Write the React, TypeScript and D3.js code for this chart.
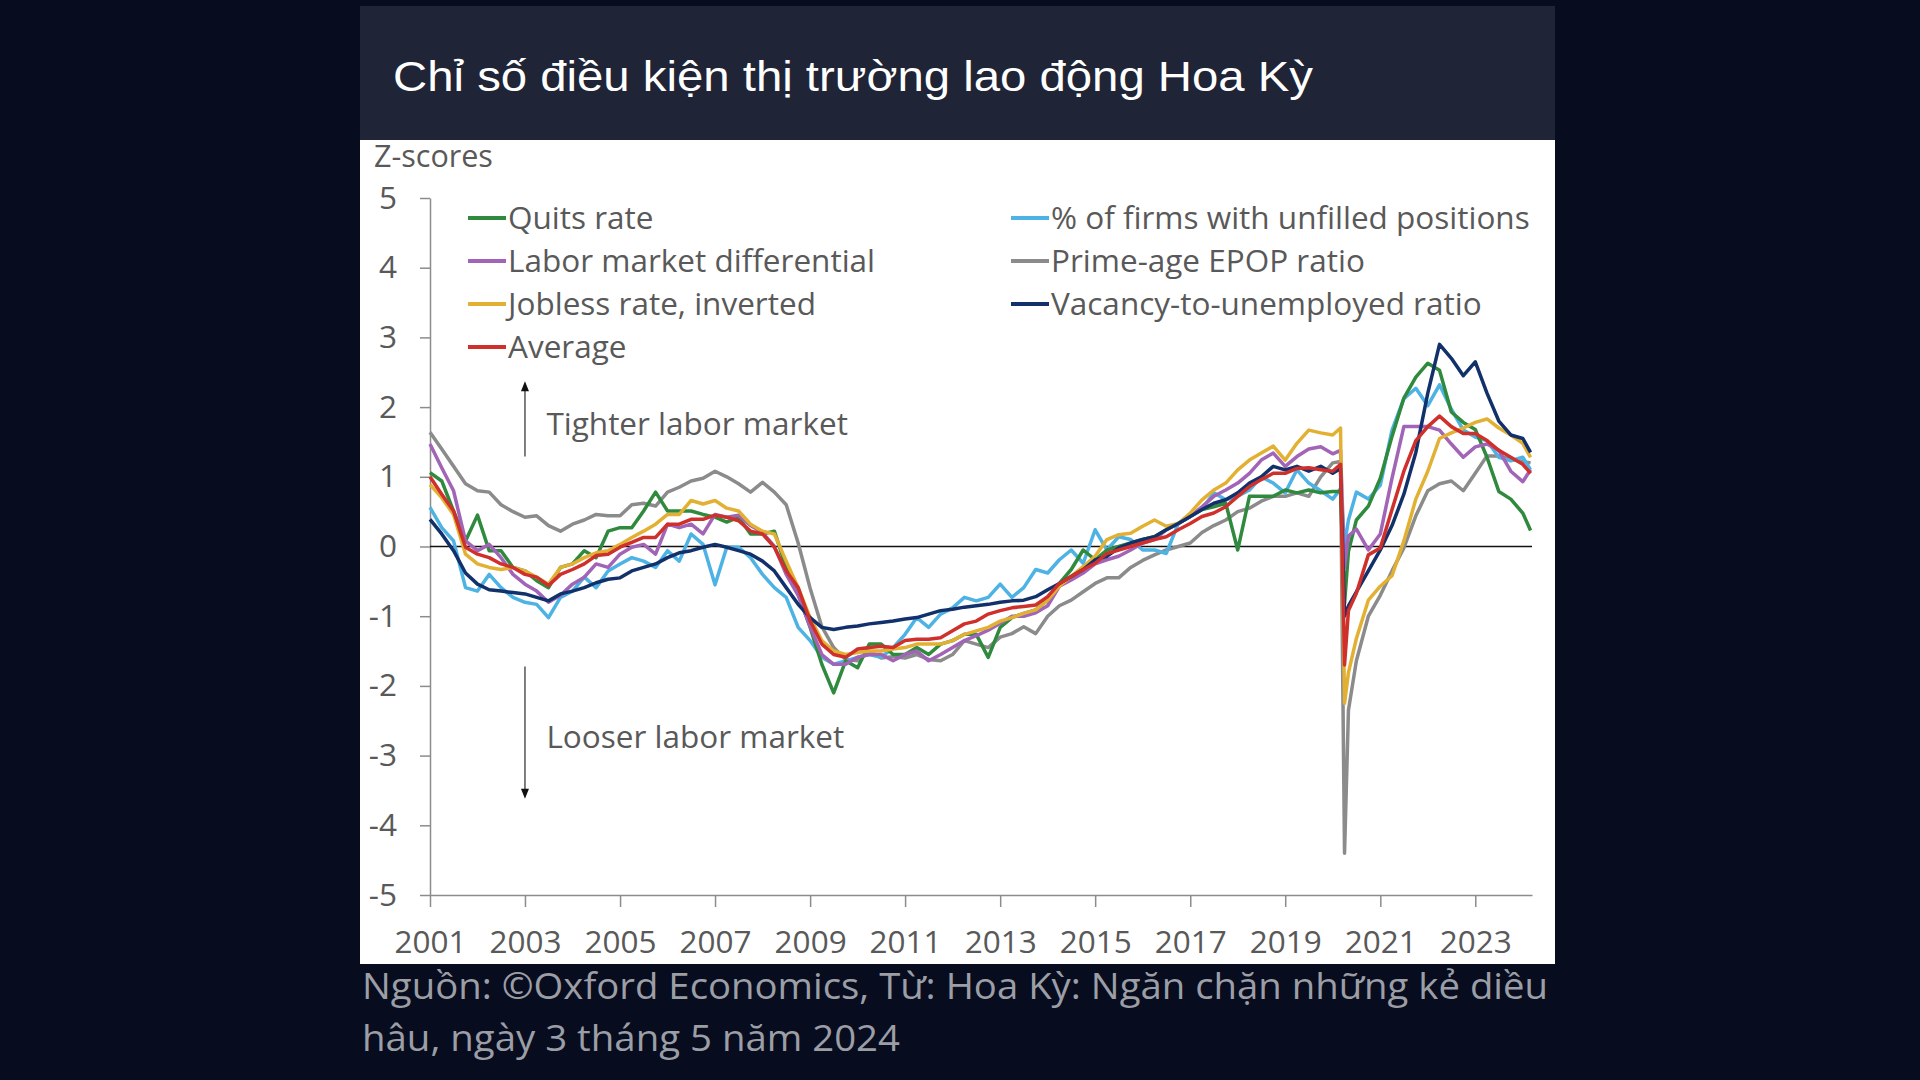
import React, { useEffect, useRef } from 'react';
import * as d3 from 'd3';

// sample dates: quarterly, monthly around the 2020 drop
const quarterMonths = [1, 4, 7, 10];
const covidMonths = [1, 3, 4, 5, 7, 10];
const lastMonths = [1, 3];
const dates: Date[] = [
  ...d3.range(2001, 2020).flatMap(y => quarterMonths.map(m => new Date(y, m - 1, 1))),
  ...covidMonths.map(m => new Date(2020, m - 1, 1)),
  ...d3.range(2021, 2024).flatMap(y => quarterMonths.map(m => new Date(y, m - 1, 1))),
  ...lastMonths.map(m => new Date(2024, m - 1, 1)),
];

const quits = [
  1.06, 0.94, 0.51, 0.08,
  0.45, -0.06, -0.06, -0.30,
  -0.35, -0.49, -0.59, -0.30,
  -0.25, -0.06, -0.16, 0.22,
  0.27, 0.27, 0.51, 0.78,
  0.51, 0.51, 0.51, 0.46,
  0.42, 0.35, 0.42, 0.18,
  0.18, 0.22, -0.30, -0.68,
  -1.16, -1.69, -2.10, -1.64,
  -1.74, -1.40, -1.40, -1.55,
  -1.55, -1.45, -1.55, -1.40,
  -1.35, -1.26, -1.26, -1.59,
  -1.16, -1.02, -0.96, -0.91,
  -0.77, -0.53, -0.33, -0.05,
  -0.19, -0.05, 0.00, 0.05,
  0.10, 0.14, 0.24, 0.33,
  0.43, 0.53, 0.57, 0.62,
  -0.05, 0.72, 0.72, 0.72,
  0.81, 0.77, 0.81, 0.77,
  0.79, 0.79, -0.82, -0.07, 0.38, 0.58,
  0.98, 1.58, 2.13, 2.43,
  2.63, 2.53, 1.93, 1.78,
  1.68, 1.28, 0.79, 0.68,
  0.48, 0.23,
];

const laborDiff = [
  1.47, 1.13, 0.80, 0.08,
  -0.06, 0.03, -0.16, -0.40,
  -0.54, -0.64, -0.80, -0.70,
  -0.54, -0.44, -0.25, -0.30,
  -0.11, -0.01, 0.03, -0.11,
  0.32, 0.27, 0.32, 0.18,
  0.46, 0.42, 0.45, 0.30,
  0.20, 0.00, -0.40, -0.70,
  -1.15, -1.55, -1.69, -1.69,
  -1.59, -1.55, -1.55, -1.64,
  -1.55, -1.50, -1.64, -1.55,
  -1.45, -1.35, -1.28, -1.20,
  -1.10, -1.00, -1.00, -0.95,
  -0.85, -0.57, -0.48, -0.38,
  -0.25, -0.19, -0.14, -0.05,
  0.05, 0.10, 0.24, 0.33,
  0.43, 0.57, 0.72, 0.81,
  0.91, 1.05, 1.24, 1.34,
  1.15, 1.29, 1.40, 1.43,
  1.33, 1.38, -0.30, 0.15, 0.25, -0.05,
  0.18, 0.98, 1.72, 1.72,
  1.72, 1.67, 1.47, 1.28,
  1.43, 1.47, 1.38, 1.08,
  0.93, 1.10,
];

const jobless = [
  0.89, 0.70, 0.46, -0.11,
  -0.25, -0.30, -0.33, -0.30,
  -0.35, -0.44, -0.54, -0.30,
  -0.25, -0.16, -0.09, -0.06,
  0.03, 0.13, 0.22, 0.32,
  0.46, 0.46, 0.66, 0.61,
  0.66, 0.55, 0.51, 0.32,
  0.22, 0.18, -0.21, -0.59,
  -1.02, -1.35, -1.50, -1.55,
  -1.52, -1.50, -1.50, -1.47,
  -1.45, -1.40, -1.40, -1.40,
  -1.35, -1.26, -1.21, -1.16,
  -1.07, -1.02, -0.96, -0.91,
  -0.77, -0.57, -0.43, -0.29,
  -0.14, 0.10, 0.17, 0.19,
  0.29, 0.38, 0.29, 0.33,
  0.48, 0.67, 0.81, 0.91,
  1.10, 1.24, 1.34, 1.44,
  1.24, 1.48, 1.67, 1.63,
  1.60, 1.70, -2.25, -1.81, -1.32, -0.77,
  -0.57, -0.42, 0.08, 0.68,
  1.08, 1.55, 1.63, 1.70,
  1.78, 1.83, 1.70, 1.60,
  1.48, 1.28,
];

const average = [
  1.00, 0.75, 0.51, -0.01,
  -0.11, -0.16, -0.25, -0.30,
  -0.40, -0.44, -0.56, -0.40,
  -0.33, -0.25, -0.13, -0.11,
  -0.01, 0.06, 0.13, 0.13,
  0.32, 0.32, 0.39, 0.39,
  0.45, 0.42, 0.37, 0.22,
  0.18, -0.01, -0.35, -0.59,
  -1.07, -1.40, -1.55, -1.59,
  -1.47, -1.45, -1.43, -1.45,
  -1.35, -1.33, -1.33, -1.31,
  -1.21, -1.11, -1.07, -0.97,
  -0.92, -0.88, -0.86, -0.84,
  -0.72, -0.53, -0.43, -0.33,
  -0.24, -0.10, -0.05, 0.00,
  0.05, 0.10, 0.14, 0.24,
  0.33, 0.43, 0.48, 0.57,
  0.72, 0.86, 0.96, 1.05,
  1.05, 1.12, 1.13, 1.10,
  1.08, 1.18, -1.70, -0.92, -0.67, -0.12,
  -0.02, 0.53, 1.08, 1.52,
  1.72, 1.87, 1.72, 1.62,
  1.62, 1.52, 1.38, 1.28,
  1.18, 1.05,
];

const unfilled = [
  0.56, 0.27, 0.08, -0.59,
  -0.64, -0.40, -0.59, -0.73,
  -0.80, -0.83, -1.02, -0.73,
  -0.64, -0.44, -0.59, -0.35,
  -0.25, -0.16, -0.21, -0.30,
  -0.06, -0.21, 0.18, 0.03,
  -0.55, -0.01, -0.01, -0.16,
  -0.40, -0.59, -0.73, -1.16,
  -1.35, -1.59, -1.69, -1.64,
  -1.59, -1.55, -1.59, -1.45,
  -1.26, -1.02, -1.16, -0.97,
  -0.88, -0.73, -0.78, -0.73,
  -0.54, -0.73, -0.59, -0.33,
  -0.38, -0.19, -0.05, -0.24,
  0.24, -0.05, 0.14, 0.10,
  -0.05, -0.05, -0.10, 0.33,
  0.43, 0.53, 0.77, 0.67,
  0.72, 0.81, 1.00, 0.91,
  0.77, 1.10, 0.91, 0.80,
  0.68, 0.83, 0.03, 0.38, 0.78, 0.68,
  0.88, 1.67, 2.12, 2.27,
  2.02, 2.32, 1.97, 1.67,
  1.57, 1.52, 1.28, 1.23,
  1.28, 1.10,
];

const epop = [
  1.64, 1.40, 1.15, 0.90,
  0.80, 0.78, 0.60, 0.50,
  0.42, 0.44, 0.30, 0.22,
  0.32, 0.38, 0.46, 0.44,
  0.44, 0.60, 0.62, 0.58,
  0.78, 0.85, 0.94, 0.98,
  1.08, 1.00, 0.90, 0.78,
  0.92, 0.78, 0.60, 0.05,
  -0.60, -1.15, -1.45, -1.62,
  -1.64, -1.50, -1.60, -1.58,
  -1.60, -1.55, -1.62, -1.64,
  -1.55, -1.35, -1.40, -1.45,
  -1.30, -1.25, -1.15, -1.25,
  -1.00, -0.85, -0.77, -0.65,
  -0.53, -0.45, -0.45, -0.30,
  -0.20, -0.12, -0.05, 0.00,
  0.05, 0.20, 0.30, 0.38,
  0.50, 0.55, 0.65, 0.72,
  0.72, 0.77, 0.72, 1.00,
  1.20, 1.22, -4.40, -2.35, -1.64, -1.00,
  -0.70, -0.35, -0.02, 0.44,
  0.80, 0.90, 0.94, 0.80,
  1.05, 1.30, 1.30, 1.25,
  1.22, 1.20,
];

const vacancy = [
  0.39, 0.18, -0.06, -0.38,
  -0.54, -0.62, -0.64, -0.66,
  -0.68, -0.73, -0.78, -0.68,
  -0.64, -0.59, -0.52, -0.47,
  -0.45, -0.35, -0.30, -0.25,
  -0.16, -0.09, -0.06, -0.01,
  0.03, -0.01, -0.06, -0.11,
  -0.21, -0.35, -0.59, -0.83,
  -1.02, -1.16, -1.19, -1.16,
  -1.14, -1.11, -1.09, -1.07,
  -1.04, -1.02, -0.97, -0.92,
  -0.90, -0.87, -0.85, -0.83,
  -0.80, -0.78, -0.77, -0.72,
  -0.62, -0.53, -0.43, -0.33,
  -0.19, -0.14, -0.02, 0.05,
  0.10, 0.14, 0.24, 0.33,
  0.43, 0.53, 0.62, 0.67,
  0.77, 0.91, 1.00, 1.15,
  1.10, 1.15, 1.08, 1.15,
  1.05, 1.12, -1.00, -0.85, -0.65, -0.35,
  -0.05, 0.30, 0.75, 1.35,
  2.20, 2.90, 2.70, 2.45,
  2.65, 2.20, 1.80, 1.60,
  1.55, 1.35,
];

const yTicks = [5, 4, 3, 2, 1, 0, -1, -2, -3, -4, -5];
const xTickYears = [2001, 2003, 2005, 2007, 2009, 2011, 2013, 2015, 2017, 2019, 2021, 2023];

const leftLegend = ['Quits rate', 'Labor market differential', 'Jobless rate, inverted', 'Average'];
const rightLegend = ['% of firms with unfilled positions', 'Prime-age EPOP ratio', 'Vacancy-to-unemployed ratio'];

const seriesValues: Record<string, number[]> = {
  'Quits rate': quits,
  'Labor market differential': laborDiff,
  'Jobless rate, inverted': jobless,
  'Average': average,
  '% of firms with unfilled positions': unfilled,
  'Prime-age EPOP ratio': epop,
  'Vacancy-to-unemployed ratio': vacancy,
};

const colors: Record<string, string> = {
  'Quits rate': '#2f8a3e',
  'Labor market differential': '#a164b6',
  'Jobless rate, inverted': '#e2b134',
  'Average': '#d0302c',
  '% of firms with unfilled positions': '#4db2e4',
  'Prime-age EPOP ratio': '#8b8b8b',
  'Vacancy-to-unemployed ratio': '#12306a',
};

// paint order, back to front
const drawOrder = [
  'Prime-age EPOP ratio',
  '% of firms with unfilled positions',
  'Quits rate',
  'Labor market differential',
  'Jobless rate, inverted',
  'Vacancy-to-unemployed ratio',
  'Average',
];

const title = 'Chỉ số điều kiện thị trường lao động Hoa Kỳ';
const sourceLines = [
  'Nguồn: ©Oxford Economics, Từ: Hoa Kỳ: Ngăn chặn những kẻ diều',
  'hâu, ngày 3 tháng 5 năm 2024',
];

const chartFont = "'Open Sans', 'Noto Sans', sans-serif";
const textGray = '#595959';
const axisGray = '#8c8c8c';
const labelSize = 31.5;

function App() {
  const svgRef = useRef<SVGSVGElement>(null);

  useEffect(() => {
    const svg = d3.select(svgRef.current);
    svg.selectAll('*').remove();

    // page + panels
    svg.append('rect').attr('width', 1920).attr('height', 1080).attr('fill', '#070c1f');
    svg.append('rect').attr('x', 360).attr('y', 6).attr('width', 1195).attr('height', 134).attr('fill', '#1f2436');
    svg.append('rect').attr('x', 360).attr('y', 140).attr('width', 1195).attr('height', 824).attr('fill', '#ffffff');

    svg.append('text')
      .attr('x', 393).attr('y', 91)
      .attr('font-family', "'Liberation Sans', Arial, sans-serif")
      .attr('font-size', 43)
      .attr('fill', '#ffffff')
      .attr('textLength', 920)
      .attr('lengthAdjust', 'spacingAndGlyphs')
      .text(title);

    const x = d3.scaleTime()
      .domain([new Date(2001, 0, 1), new Date(2024, 2, 12)])
      .range([430, 1532]);
    const y = d3.scaleLinear().domain([-5, 5]).range([895, 198]);

    // y axis
    const yAxis = svg.append('g')
      .attr('transform', `translate(${x.range()[0]},0)`)
      .call(d3.axisLeft(y).tickValues(yTicks).tickSize(10).tickSizeOuter(0).tickPadding(23).tickFormat(d3.format('d')));
    yAxis.select('.domain').attr('stroke', axisGray).attr('stroke-width', 1.5);
    yAxis.selectAll('.tick line').attr('stroke', axisGray).attr('stroke-width', 1.5);
    yAxis.selectAll('.tick text')
      .attr('font-family', chartFont).attr('font-size', labelSize).attr('fill', textGray)
      .text((d: any) => String(d).replace('−', '-'));

    // x axis
    const xAxis = svg.append('g')
      .attr('transform', `translate(0,${y(-5)})`)
      .call(d3.axisBottom(x)
        .tickValues(xTickYears.map(yr => new Date(yr, 0, 1)))
        .tickFormat(d3.timeFormat('%Y') as any)
        .tickSize(12).tickSizeOuter(0).tickPadding(24));
    xAxis.select('.domain').attr('stroke', axisGray).attr('stroke-width', 1.5);
    xAxis.selectAll('.tick line').attr('stroke', axisGray).attr('stroke-width', 1.5);
    xAxis.selectAll('.tick text')
      .attr('font-family', chartFont).attr('font-size', labelSize).attr('fill', textGray);

    // zero line
    svg.append('line')
      .attr('x1', x.range()[0]).attr('x2', x.range()[1])
      .attr('y1', y(0)).attr('y2', y(0))
      .attr('stroke', '#111').attr('stroke-width', 1.3);

    svg.append('text')
      .attr('x', 374).attr('y', 167)
      .attr('font-family', chartFont).attr('font-size', 30.5).attr('fill', textGray)
      .text('Z-scores');

    // series lines
    const line = d3.line<number>()
      .x((_, i) => x(dates[i]))
      .y(d => y(d));
    drawOrder.forEach(name => {
      svg.append('path')
        .datum(seriesValues[name])
        .attr('d', line)
        .attr('fill', 'none')
        .attr('stroke', colors[name])
        .attr('stroke-width', 3.5)
        .attr('stroke-linejoin', 'round');
    });

    // legend
    const legendRow = (names: string[], x0: number) => {
      names.forEach((name, i) => {
        const cy = 218 + i * 43;
        svg.append('line')
          .attr('x1', x0).attr('x2', x0 + 38).attr('y1', cy).attr('y2', cy)
          .attr('stroke', colors[name]).attr('stroke-width', 4);
        svg.append('text')
          .attr('x', x0 + 40).attr('y', cy + 11)
          .attr('font-family', chartFont).attr('font-size', labelSize).attr('fill', textGray)
          .text(name);
      });
    };
    legendRow(leftLegend, 468);
    legendRow(rightLegend, 1011);

    // annotations
    const ax = x(new Date(2003, 0, 1));
    const arrow = (from: number, to: number) => {
      const y1 = y(from), y2 = y(to);
      const dir = y2 < y1 ? -1 : 1;
      svg.append('line')
        .attr('x1', ax).attr('x2', ax).attr('y1', y1).attr('y2', y2 - dir * 8)
        .attr('stroke', '#555').attr('stroke-width', 1.5);
      svg.append('path')
        .attr('d', `M${ax},${y2} L${ax - 4},${y2 - dir * 10} L${ax + 4},${y2 - dir * 10} Z`)
        .attr('fill', '#111');
    };
    arrow(1.29, 2.37);
    arrow(-1.72, -3.62);

    const labelX = x(new Date(2003, 5, 15));
    svg.append('text')
      .attr('x', labelX).attr('y', y(1.76) + 11)
      .attr('font-family', chartFont).attr('font-size', labelSize).attr('fill', textGray)
      .text('Tighter labor market');
    svg.append('text')
      .attr('x', labelX).attr('y', y(-2.74) + 11)
      .attr('font-family', chartFont).attr('font-size', labelSize).attr('fill', textGray)
      .text('Looser labor market');

    // source note
    sourceLines.forEach((t, i) => {
      const el = svg.append('text')
        .attr('x', 362).attr('y', 999 + i * 52)
        .attr('font-family', chartFont).attr('font-size', 36).attr('fill', '#9c9ea6')
        .text(t);
      if (i === 0) el.attr('textLength', 1186).attr('lengthAdjust', 'spacingAndGlyphs');
      else el.attr('textLength', 538).attr('lengthAdjust', 'spacingAndGlyphs');
    });
  }, []);

  return (
    <div style={{ position: 'absolute', left: 0, top: 0 }}>
      <svg ref={svgRef} width={1920} height={1080}></svg>
    </div>
  );
}

export default App;
